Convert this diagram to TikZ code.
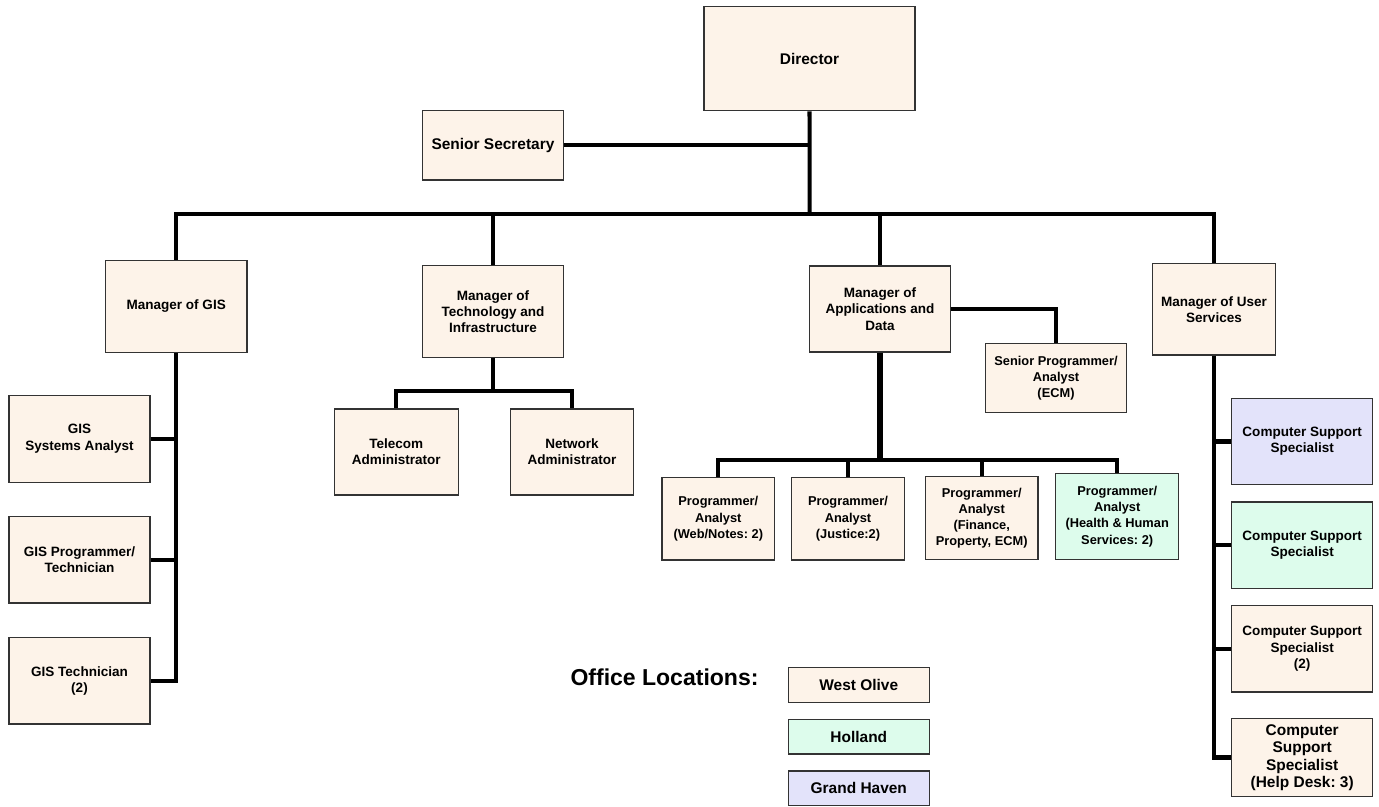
\documentclass[tikz,border=0pt]{standalone}
\usepackage{fontspec}
\setmainfont{Liberation Sans}
\frenchspacing
\definecolor{westolive}{HTML}{FDF3E9}
\definecolor{holland}{HTML}{DDFCEC}
\definecolor{grandhaven}{HTML}{E3E3FA}
\tikzset{
  orgbox/.style={draw=black!80,line width=0.7pt,fill=westolive,align=center,inner sep=1pt,
    font=\bfseries\fontsize{7.7}{9.25}\selectfont},
  analystbox/.style={orgbox,font=\bfseries\fontsize{7.3}{9.25}\selectfont},
  largebox/.style={orgbox,font=\bfseries\fontsize{8.8}{9.9}\selectfont},
  orgline/.style={line width=2.3pt},
  heavyline/.style={line width=3.6pt}
}

\begin{document}
\begin{tikzpicture}[x=0.02cm,y=-0.02cm]
  \useasboundingbox (0,0) rectangle (1379,806);
  % top level
  \node[largebox,minimum width=4.22cm,minimum height=2.08cm] (director) at (809.5,58.7) {Director};
  \node[largebox,minimum width=2.83cm,minimum height=1.39cm] (secretary) at (493,145.2) {Senior Secretary};
  % managers
  \node[orgbox,minimum width=2.83cm,minimum height=1.84cm] (gis) at (176.2,306.3) {Manager of GIS};
  \node[orgbox,minimum width=2.83cm,minimum height=1.83cm] (tech) at (493,311.5)
    {Manager of\\Technology and\\Infrastructure};
  \node[orgbox,minimum width=2.83cm,minimum height=1.72cm] (apps) at (880,309)
    {Manager of\\Applications and\\Data};
  \node[orgbox,minimum width=2.47cm,minimum height=1.83cm] (users) at (1214,309.3)
    {Manager of User\\Services};
  % GIS staff
  \node[orgbox,minimum width=2.82cm,minimum height=1.74cm] (gissys) at (79.5,438.7) {GIS\\Systems Analyst};
  \node[orgbox,minimum width=2.82cm,minimum height=1.73cm] (gisprog) at (79.5,559.8) {GIS Programmer/\\Technician};
  \node[orgbox,minimum width=2.82cm,minimum height=1.73cm] (gistech) at (79.5,680.7) {GIS Technician\\(2)};
  % technology staff
  \node[orgbox,minimum width=2.48cm,minimum height=1.72cm] (telecom) at (396.3,452) {Telecom\\Administrator};
  \node[orgbox,minimum width=2.47cm,minimum height=1.72cm] (network) at (572,452) {Network\\Administrator};
  % applications staff
  \node[analystbox,minimum width=2.81cm,minimum height=1.38cm] (senprog) at (1056,378.2)
    {Senior Programmer/\\Analyst\\(ECM)};
  \node[analystbox,minimum width=2.25cm,minimum height=1.65cm] (pa1) at (718.3,518.8)
    {Programmer/\\Analyst\\(Web/Notes: 2)};
  \node[analystbox,minimum width=2.25cm,minimum height=1.65cm] (pa2) at (848,518.8)
    {Programmer/\\Analyst\\(Justice:2)};
  \node[analystbox,minimum width=2.25cm,minimum height=1.66cm] (pa3) at (981.7,518.2)
    {Programmer/\\Analyst\\(Finance,\\Property, ECM)};
  \node[analystbox,fill=holland,minimum width=2.46cm,minimum height=1.73cm] (pa4) at (1117.2,516.5)
    {Programmer/\\Analyst\\(Health \& Human\\Services: 2)};
  % user services staff
  \node[orgbox,fill=grandhaven,minimum width=2.82cm,minimum height=1.73cm] (css1) at (1302.2,441.5)
    {Computer Support\\Specialist};
  \node[orgbox,fill=holland,minimum width=2.82cm,minimum height=1.73cm] (css2) at (1302.2,545.2)
    {Computer Support\\Specialist};
  \node[orgbox,minimum width=2.82cm,minimum height=1.73cm] (css3) at (1302.2,648.8)
    {Computer Support\\Specialist\\(2)};
  \node[largebox,minimum width=2.82cm,minimum height=1.57cm] (css4) at (1302.2,757.5)
    {Computer\\Support\\Specialist\\(Help Desk: 3)};
  % legend
  \node[font=\bfseries\fontsize{13.1}{15}\selectfont] (legend) at (664.5,677) {Office Locations:};
  \node[largebox,minimum width=2.82cm,minimum height=0.69cm] (westolive) at (858.8,685) {West Olive};
  \node[largebox,fill=holland,minimum width=2.82cm,minimum height=0.69cm] (holland) at (858.8,736.7) {Holland};
  \node[largebox,fill=grandhaven,minimum width=2.82cm,minimum height=0.69cm] (grandhaven) at (858.8,788.3) {Grand Haven};

  % connectors
  \coordinate (bus) at (809.7,214.3);
  \coordinate (techbus) at (493,391);
  \coordinate (appsbus) at (880,460);
  \draw[orgline] (director.south) -- (bus);
  \draw[orgline] (secretary.east) -- (secretary.east -| director.south);
  \foreach \m in {gis,tech,apps,users}
    \draw[orgline] (bus) -| (\m.north);
  \draw[orgline] (gis.south) |- (gistech.east);
  \foreach \s in {gissys,gisprog}
    \draw[orgline] (\s.east) -- (\s.east -| gis.south);
  \draw[orgline] (tech.south) -- (techbus);
  \foreach \s in {telecom,network}
    \draw[orgline] (techbus) -| (\s.north);
  \draw[orgline] (apps.east) -| (senprog.north);
  \draw[heavyline] (apps.south) -- (appsbus);
  \foreach \s in {pa1,pa2,pa3,pa4}
    \draw[orgline] (appsbus) -| (\s.north);
  \draw[orgline] (users.south) |- (css4.west);
  \foreach \s in {css1,css2,css3}
    \draw[orgline] (\s.west) -- (\s.west -| users.south);
\end{tikzpicture}
\end{document}
